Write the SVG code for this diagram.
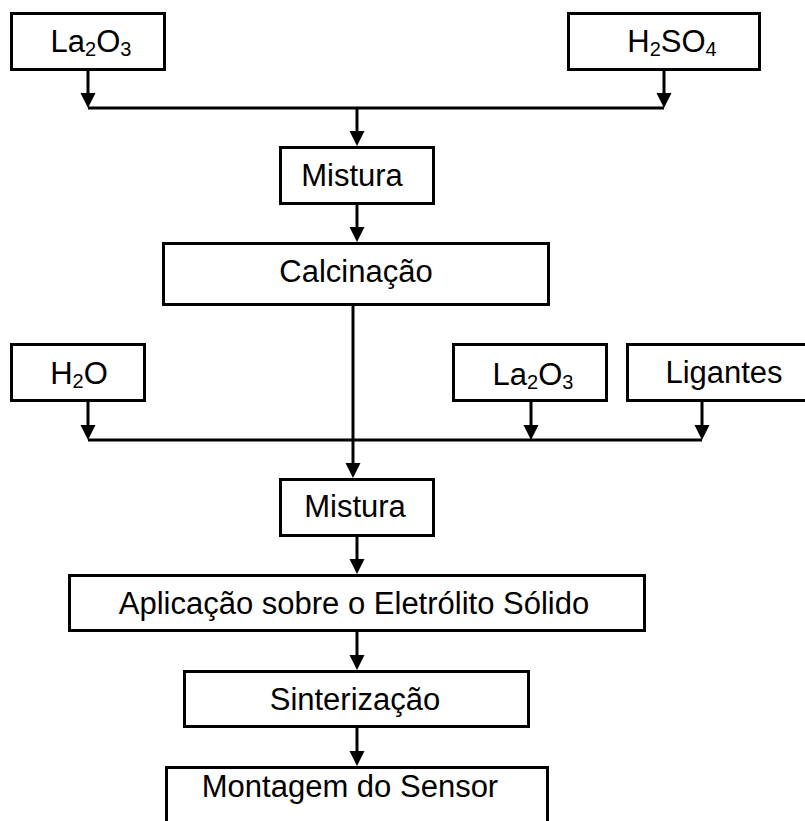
<svg xmlns="http://www.w3.org/2000/svg" width="805" height="821" viewBox="0 0 805 821">
<style>
.box{fill:#fff;stroke:#000;stroke-width:3}
.lbl{font-family:"Liberation Sans",Arial,sans-serif;font-size:31px;fill:#000;text-anchor:middle}
.sub{font-size:20px}
.con{stroke:#000;stroke-width:3;fill:none}
.arr{stroke:#000;stroke-width:3;fill:none;marker-end:url(#ah)}
</style>
<defs>
<marker id="ah" markerUnits="userSpaceOnUse" markerWidth="16" markerHeight="16" viewBox="0 0 16 16" refX="10" refY="8" orient="auto">
<path d="M0,0.5 L15,8 L0,15.5 Z" fill="#000"/>
</marker>
</defs>
<g id="connectors">
<line class="arr" x1="88" y1="71" x2="88" y2="103"/>
<line class="arr" x1="664" y1="71" x2="664" y2="103"/>
<line class="con" x1="88" y1="108" x2="664" y2="108"/>
<line class="arr" x1="357" y1="108" x2="357" y2="141"/>
<line class="arr" x1="357" y1="204" x2="357" y2="237"/>
<line class="arr" x1="353" y1="306" x2="353" y2="473"/>
<line class="arr" x1="88" y1="402" x2="88" y2="435"/>
<line class="arr" x1="531" y1="402" x2="531" y2="435"/>
<line class="arr" x1="702" y1="402" x2="702" y2="435"/>
<line class="con" x1="88" y1="440" x2="702" y2="440"/>
<line class="arr" x1="357" y1="537" x2="357" y2="569"/>
<line class="arr" x1="357" y1="632" x2="357" y2="665"/>
<line class="arr" x1="357" y1="728" x2="357" y2="761"/>
</g>
<g id="la2o3-top">
<rect class="box" x="11.5" y="13.5" width="153" height="56"/>
<text class="lbl" x="91" y="52">La<tspan class="sub" dy="4">2</tspan><tspan dy="-4">O</tspan><tspan class="sub" dy="4">3</tspan></text>
</g>
<g id="h2so4">
<rect class="box" x="568.5" y="13.5" width="191" height="56"/>
<text class="lbl" x="672" y="52">H<tspan class="sub" dy="4">2</tspan><tspan dy="-4">SO</tspan><tspan class="sub" dy="4">4</tspan></text>
</g>
<g id="mistura1">
<rect class="box" x="280.5" y="147.5" width="153" height="56"/>
<text class="lbl" x="352" y="186">Mistura</text>
</g>
<g id="calcinacao">
<rect class="box" x="163.5" y="243.5" width="385" height="61"/>
<text class="lbl" x="356" y="282">Calcinação</text>
</g>
<g id="h2o">
<rect class="box" x="11.5" y="344.5" width="133" height="56"/>
<text class="lbl" x="79" y="384">H<tspan class="sub" dy="4">2</tspan><tspan dy="-4">O</tspan></text>
</g>
<g id="la2o3-mid">
<rect class="box" x="453.5" y="344.5" width="153" height="56"/>
<text class="lbl" x="533" y="385">La<tspan class="sub" dy="4">2</tspan><tspan dy="-4">O</tspan><tspan class="sub" dy="4">3</tspan></text>
</g>
<g id="ligantes">
<rect class="box" x="627.5" y="344.5" width="200" height="56"/>
<text class="lbl" x="724" y="383">Ligantes</text>
</g>
<g id="mistura2">
<rect class="box" x="280.5" y="479.5" width="153" height="56"/>
<text class="lbl" x="355" y="517">Mistura</text>
</g>
<g id="aplicacao">
<rect class="box" x="69.5" y="575.5" width="575" height="55"/>
<text class="lbl" x="354" y="614">Aplicação sobre o Eletrólito Sólido</text>
</g>
<g id="sinterizacao">
<rect class="box" x="184.5" y="671.5" width="344" height="55"/>
<text class="lbl" x="355" y="710">Sinterização</text>
</g>
<g id="montagem">
<rect class="box" x="166.5" y="767.5" width="381" height="80"/>
<text class="lbl" x="350" y="797">Montagem do Sensor</text>
</g>
</svg>
